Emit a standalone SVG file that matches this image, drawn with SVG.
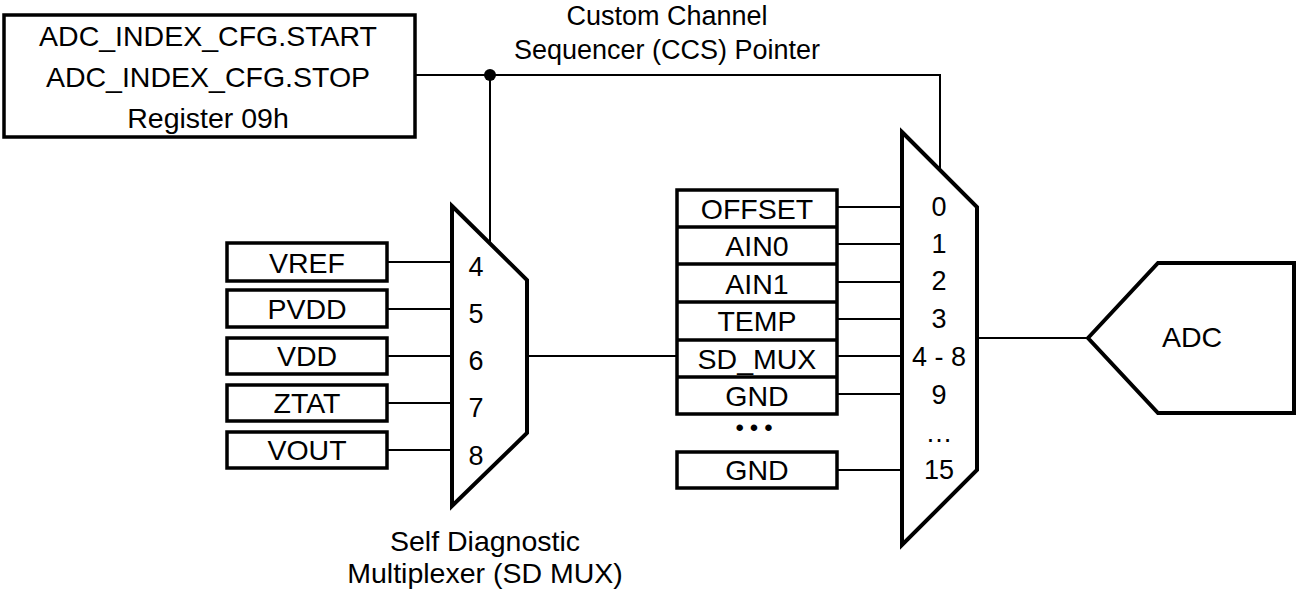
<svg xmlns="http://www.w3.org/2000/svg" width="1300" height="592" viewBox="0 0 1300 592">
<style>
text{font-family:"Liberation Sans",Arial,sans-serif;fill:#000;text-anchor:middle}
.t{font-size:28.5px}
.l{font-size:27px}
.n{font-size:27px}
.box{fill:#fff;stroke:#000;stroke-width:3.5}
.mux{fill:#fff;stroke:#000;stroke-width:4;stroke-linejoin:miter}
.w{fill:none;stroke:#000;stroke-width:2}
</style>
<rect width="1300" height="592" fill="#fff"/>
<g id="connectors">
<polyline class="w" points="415,75 940,75 940,172"/>
<line class="w" x1="490" y1="75" x2="490" y2="243"/>
<circle cx="490" cy="75" r="6" fill="#000"/>
<line class="w" x1="387" y1="262" x2="452" y2="262"/>
<line class="w" x1="387" y1="309" x2="452" y2="309"/>
<line class="w" x1="387" y1="356" x2="452" y2="356"/>
<line class="w" x1="387" y1="403" x2="452" y2="403"/>
<line class="w" x1="387" y1="450" x2="452" y2="450"/>
<line class="w" x1="527" y1="356" x2="677" y2="356"/>
<line class="w" x1="837" y1="207" x2="902" y2="207"/>
<line class="w" x1="837" y1="244" x2="902" y2="244"/>
<line class="w" x1="837" y1="282" x2="902" y2="282"/>
<line class="w" x1="837" y1="319" x2="902" y2="319"/>
<line class="w" x1="837" y1="356" x2="902" y2="356"/>
<line class="w" x1="837" y1="394" x2="902" y2="394"/>
<line class="w" x1="837" y1="470" x2="902" y2="470"/>
<line class="w" x1="977" y1="338" x2="1088" y2="338"/>
</g>
<g id="register">
<rect class="box" x="4" y="15" width="411" height="122"/>
<text class="t" x="208" y="46">ADC_INDEX_CFG.START</text>
<text class="t" x="208" y="87">ADC_INDEX_CFG.STOP</text>
<text class="t" x="208" y="128">Register 09h</text>
</g>
<g id="ccs-label">
<text class="l" x="667" y="25">Custom Channel</text>
<text class="l" x="667" y="59">Sequencer (CCS) Pointer</text>
</g>
<g id="sd-inputs">
<rect class="box" x="227" y="243" width="160" height="38"/>
<text class="t" x="307" y="273">VREF</text>
<rect class="box" x="227" y="290" width="160" height="37"/>
<text class="t" x="307" y="319">PVDD</text>
<rect class="box" x="227" y="338" width="160" height="36"/>
<text class="t" x="307" y="366">VDD</text>
<rect class="box" x="227" y="385" width="160" height="36"/>
<text class="t" x="307" y="413">ZTAT</text>
<rect class="box" x="227" y="432" width="160" height="36"/>
<text class="t" x="307" y="460">VOUT</text>
</g>
<g id="sd-mux">
<polygon class="mux" points="452,206 527,280 527,433 452,506"/>
<text class="n" x="476" y="276">4</text>
<text class="n" x="476" y="323">5</text>
<text class="n" x="476" y="370">6</text>
<text class="n" x="476" y="417">7</text>
<text class="n" x="476" y="465">8</text>
</g>
<g id="sd-label">
<text class="t" x="485" y="551">Self Diagnostic</text>
<text class="t" x="485" y="583">Multiplexer (SD MUX)</text>
</g>
<g id="ccs-inputs">
<rect class="box" x="677" y="190" width="160" height="224"/>
<line x1="677" y1="227" x2="837" y2="227" stroke="#000" stroke-width="3.5"/>
<line x1="677" y1="264" x2="837" y2="264" stroke="#000" stroke-width="3.5"/>
<line x1="677" y1="302" x2="837" y2="302" stroke="#000" stroke-width="3.5"/>
<line x1="677" y1="340" x2="837" y2="340" stroke="#000" stroke-width="3.5"/>
<line x1="677" y1="377" x2="837" y2="377" stroke="#000" stroke-width="3.5"/>
<text class="t" x="757" y="219">OFFSET</text>
<text class="t" x="757" y="256">AIN0</text>
<text class="t" x="757" y="294">AIN1</text>
<text class="t" x="757" y="331">TEMP</text>
<text class="t" x="757" y="369">SD_MUX</text>
<text class="t" x="757" y="406">GND</text>
<text x="757" y="436" style="font-size:24px;letter-spacing:6px">•••</text>
<rect class="box" x="677" y="452" width="160" height="36"/>
<text class="t" x="757" y="480">GND</text>
</g>
<g id="ccs-mux">
<polygon class="mux" points="902,132 977,207 977,470 902,545"/>
<text class="n" x="939" y="216">0</text>
<text class="n" x="939" y="253">1</text>
<text class="n" x="939" y="290">2</text>
<text class="n" x="939" y="328">3</text>
<text class="n" x="939" y="366">4 - 8</text>
<text class="n" x="939" y="404">9</text>
<text class="n" x="939" y="442">…</text>
<text class="n" x="939" y="479">15</text>
</g>
<g id="adc">
<polygon class="mux" points="1088,338 1158,263 1294,263 1294,413 1158,413"/>
<text class="t" x="1192" y="347">ADC</text>
</g>
</svg>
